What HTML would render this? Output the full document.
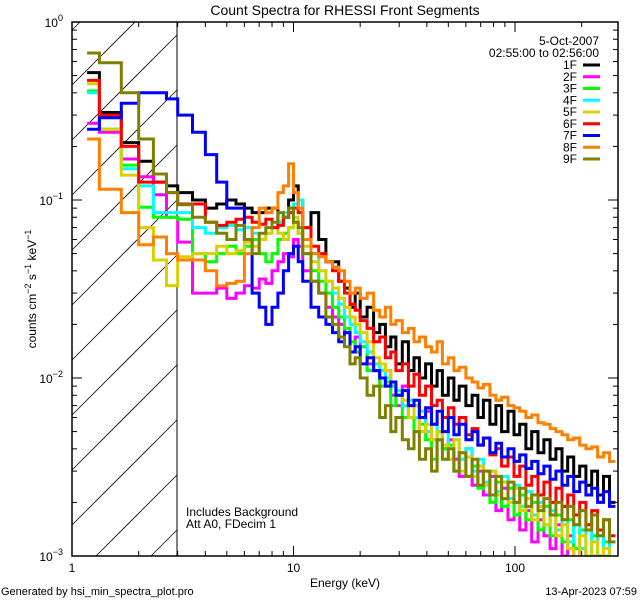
<!DOCTYPE html>
<html><head><meta charset="utf-8"><style>
html,body{margin:0;padding:0;background:#fff;width:640px;height:600px;overflow:hidden;}
svg{display:block;font-family:"Liberation Sans",sans-serif;}
</style></head><body>
<svg id="chart" width="640" height="600" viewBox="0 0 640 600" xmlns="http://www.w3.org/2000/svg">
<rect x="0" y="0" width="640" height="600" fill="#fff"/>
<defs><clipPath id="plotclip"><rect x="72" y="22" width="546" height="534"/></clipPath></defs>
<g id="hatch"></g>
<line x1="177" y1="22" x2="177" y2="556" stroke="#000" stroke-width="1"/>
<g id="series" clip-path="url(#plotclip)"></g>
<rect x="72" y="22" width="546" height="534" fill="none" stroke="#000" stroke-width="1.5"/>
<g id="ticks"></g>
<text x="345" y="15" font-size="14" text-anchor="middle">Count Spectra for RHESSI Front Segments</text>
<text x="345" y="587" font-size="12" text-anchor="middle">Energy (keV)</text>
<text transform="translate(36,289) rotate(-90)" font-size="12" text-anchor="middle">counts cm<tspan dy="-5" font-size="9">−2</tspan><tspan dy="5"> s</tspan><tspan dy="-5" font-size="9">−1</tspan><tspan dy="5"> keV</tspan><tspan dy="-5" font-size="9">−1</tspan></text>
<text x="1" y="595" font-size="11">Generated by hsi_min_spectra_plot.pro</text>
<text x="637" y="595" font-size="11" text-anchor="end">13-Apr-2023 07:59</text>
<text x="186" y="516" font-size="12">Includes Background</text>
<text x="186" y="528" font-size="12">Att A0, FDecim 1</text>
<text x="599" y="45" font-size="12" text-anchor="end">5-Oct-2007</text>
<text x="599" y="57" font-size="12" text-anchor="end">02:55:00 to 02:56:00</text>
<g id="legend"></g>
</svg>
<script>
const edges=[1.17,1.33,1.67,2,2.33,2.67,3,3.5,4,4.5,5,5.5,6,6.5,7,7.5,8,8.5,9,9.5,10,10.5,11,12,13,14,15,16,17,18,19,20,21.5,23,24.5,26,27.5,29,31,33,35,37,39.5,42,44.5,47,50,53,56,60,64,68,72,77,82,87,93,99,105,112,119,127,135,144,153,163,173,184,196,209,222,236,251,267,284];
const names=["1F","2F","3F","4F","5F","6F","7F","8F","9F"];
const colors=["#000000","#ff00ff","#00ff00","#00ffff","#d8d000","#ff0000","#0000ff","#ff8000","#808000"];
const s1F=[0.52,0.31,0.21,0.165,0.126,0.12,0.11,0.10,0.09,0.095,0.10,0.095,0.09,0.085,0.085,0.09,0.09,0.075,0.08,0.10,0.12,0.10,0.07,0.085,0.06,0.045,0.045,0.035,0.032,0.025,0.03,0.022,0.025,0.018,0.02,0.015,0.017,0.012,0.016,0.011,0.013,0.01,0.012,0.009,0.011,0.008,0.01,0.0075,0.009,0.007,0.008,0.006,0.0075,0.0055,0.007,0.005,0.0065,0.0048,0.0055,0.004,0.005,0.0038,0.0045,0.0035,0.004,0.003,0.0036,0.0028,0.0032,0.0025,0.003,0.0022,0.0028,0.002];
const s2F=[0.27,0.24,0.17,0.135,0.107,0.08,0.058,0.03,0.03,0.032,0.028,0.03,0.033,0.032,0.036,0.034,0.04,0.045,0.05,0.048,0.06,0.055,0.04,0.035,0.03,0.025,0.022,0.02,0.018,0.014,0.017,0.015,0.012,0.011,0.009,0.011,0.008,0.007,0.009,0.006,0.007,0.005,0.0065,0.0045,0.005,0.004,0.0045,0.0035,0.0028,0.004,0.0025,0.003,0.0022,0.0028,0.0018,0.0024,0.0016,0.002,0.0014,0.0018,0.0012,0.0016,0.0013,0.0011,0.0015,0.001,0.0013,0.0009,0.0011,0.0008,0.001,0.0008,0.0009,0.0007];
const s3F=[0.41,0.25,0.157,0.091,0.08,0.08,0.078,0.05,0.045,0.05,0.055,0.05,0.055,0.06,0.05,0.045,0.05,0.06,0.065,0.07,0.075,0.065,0.05,0.04,0.035,0.03,0.025,0.022,0.019,0.016,0.014,0.015,0.011,0.012,0.009,0.0095,0.007,0.008,0.006,0.007,0.005,0.0055,0.0045,0.0035,0.005,0.004,0.0042,0.003,0.0038,0.0028,0.0032,0.0024,0.003,0.002,0.0026,0.0019,0.0024,0.0017,0.0022,0.0016,0.002,0.0014,0.0019,0.0013,0.0017,0.0012,0.0016,0.0011,0.0014,0.001,0.0013,0.001,0.0012,0.0009];
const s4F=[0.40,0.25,0.15,0.12,0.085,0.085,0.085,0.07,0.065,0.07,0.072,0.068,0.07,0.065,0.06,0.065,0.07,0.075,0.085,0.09,0.095,0.10,0.07,0.05,0.04,0.035,0.03,0.026,0.022,0.02,0.018,0.016,0.014,0.012,0.011,0.01,0.009,0.0085,0.007,0.0075,0.006,0.0065,0.005,0.0055,0.0045,0.005,0.004,0.0045,0.0035,0.004,0.003,0.0035,0.0026,0.003,0.0023,0.0028,0.0021,0.0025,0.0019,0.0023,0.0017,0.002,0.0015,0.0018,0.0014,0.0016,0.0012,0.0015,0.0011,0.0014,0.001,0.0013,0.001,0.0012];
const s5F=[0.45,0.25,0.138,0.07,0.046,0.033,0.048,0.05,0.05,0.055,0.05,0.052,0.058,0.055,0.06,0.065,0.07,0.065,0.06,0.07,0.08,0.065,0.055,0.045,0.04,0.035,0.032,0.028,0.025,0.022,0.02,0.018,0.016,0.013,0.012,0.011,0.0095,0.008,0.0075,0.006,0.007,0.005,0.0055,0.0045,0.005,0.0042,0.0035,0.0045,0.003,0.0036,0.0028,0.0032,0.0025,0.003,0.0022,0.0026,0.002,0.0024,0.0018,0.0021,0.0016,0.0019,0.0015,0.0017,0.0013,0.0015,0.0011,0.0009,0.0013,0.001,0.0012,0.0009,0.0011,0.0009];
const s6F=[0.47,0.30,0.20,0.126,0.126,0.11,0.095,0.095,0.075,0.072,0.075,0.078,0.08,0.075,0.073,0.078,0.07,0.072,0.08,0.085,0.09,0.085,0.07,0.055,0.05,0.045,0.04,0.035,0.03,0.026,0.024,0.021,0.019,0.016,0.017,0.013,0.014,0.011,0.012,0.009,0.0105,0.008,0.009,0.007,0.0075,0.006,0.0068,0.0055,0.006,0.0048,0.0052,0.0042,0.0046,0.0037,0.004,0.0032,0.0036,0.0028,0.0032,0.0025,0.0028,0.0022,0.0026,0.002,0.0024,0.0019,0.0022,0.0017,0.002,0.0015,0.0018,0.0014,0.0016,0.0013];
const s7F=[0.25,0.29,0.35,0.40,0.40,0.37,0.30,0.24,0.18,0.126,0.09,0.09,0.06,0.03,0.025,0.02,0.025,0.03,0.04,0.05,0.055,0.045,0.035,0.025,0.022,0.02,0.018,0.016,0.018,0.014,0.015,0.012,0.013,0.011,0.01,0.009,0.0095,0.008,0.0085,0.007,0.0075,0.006,0.0068,0.0055,0.0065,0.005,0.006,0.0048,0.0055,0.0045,0.005,0.0042,0.0046,0.0038,0.0043,0.0036,0.004,0.0034,0.0037,0.0031,0.0034,0.0029,0.0032,0.0027,0.003,0.0025,0.0028,0.0023,0.0026,0.0022,0.0024,0.002,0.0023,0.0019];
const s8F=[0.22,0.115,0.085,0.056,0.062,0.05,0.046,0.046,0.04,0.033,0.034,0.035,0.05,0.07,0.09,0.085,0.09,0.11,0.12,0.16,0.11,0.09,0.06,0.05,0.048,0.045,0.042,0.04,0.035,0.03,0.032,0.028,0.03,0.024,0.022,0.025,0.02,0.021,0.018,0.019,0.016,0.017,0.015,0.014,0.016,0.012,0.013,0.011,0.0115,0.01,0.0095,0.0088,0.0092,0.008,0.0075,0.0078,0.007,0.0068,0.0065,0.006,0.0062,0.0056,0.0055,0.0052,0.005,0.0048,0.0045,0.0046,0.0042,0.004,0.0041,0.0036,0.0038,0.0034];
const s9F=[0.67,0.59,0.40,0.22,0.14,0.11,0.094,0.08,0.075,0.065,0.06,0.072,0.06,0.05,0.065,0.07,0.075,0.085,0.08,0.09,0.075,0.07,0.05,0.035,0.03,0.022,0.02,0.017,0.015,0.012,0.013,0.01,0.008,0.009,0.006,0.007,0.005,0.006,0.0045,0.004,0.005,0.0035,0.004,0.003,0.0045,0.0035,0.004,0.003,0.0038,0.0028,0.0035,0.0025,0.003,0.0022,0.0028,0.0021,0.0026,0.002,0.0024,0.0019,0.0022,0.0018,0.0021,0.0017,0.002,0.0016,0.0019,0.0015,0.0018,0.0014,0.0017,0.0013,0.0016,0.0012];
const seriesVals=[s1F,s2F,s3F,s4F,s5F,s6F,s7F,s8F,s9F];
const xTicksMajor=[1,10,100];
const yTicksMajor=[1,0.1,0.01,0.001];
const yTickLabels=["0","−1","−2","−3"];

const X0=72,X1=618,Y0=22,Y1=556,DX=221.5,DY=178,XH=177;
function xs(e){return X0+Math.log10(e)*DX;}
function ys(v){return Y0-Math.log10(v)*DY;}
const NS="http://www.w3.org/2000/svg";
function mk(tag,attrs,parent){const el=document.createElementNS(NS,tag);for(const k in attrs)el.setAttribute(k,attrs[k]);parent.appendChild(el);return el;}

// hatch lines: y = b - (x - X0), clipped to hatch box
const hg=document.getElementById('hatch');
for(let b=30;b<=Y1+(XH-X0);b+=55){
  const xa=Math.max(X0, X0+b-Y1);
  const xb=Math.min(XH, X0+b-Y0);
  if(xb<=xa) continue;
  const l=mk('line',{x1:xa,y1:b-(xa-X0),x2:xb,y2:b-(xb-X0),stroke:'#000','stroke-width':0.8},hg);
  
  
}

const sg=document.getElementById('series');
seriesVals.forEach((vals,i)=>{
  const n=Math.min(vals.length,edges.length-1);
  let d='';
  for(let k=0;k<n;k++){
    const y=Math.min(Y1+2,ys(Math.max(vals[k],1e-5)));
    d+=(k===0?'M':'L')+xs(edges[k]).toFixed(1)+','+y.toFixed(1)+'L'+Math.min(X1,xs(edges[k+1])).toFixed(1)+','+y.toFixed(1);
  }
  const p=mk('path',{d:d,fill:'none',stroke:colors[i],'stroke-width':3,'stroke-linejoin':'miter'},sg);
  
  
});

const tg=document.getElementById('ticks');
for(let dec=0;dec<3;dec++){
  for(let m=1;m<10;m++){
    const e=Math.pow(10,dec)*m; const x=xs(e); if(x>X1)continue;
    const len=m===1?10:5;
    const t1=mk('line',{x1:x,y1:Y1,x2:x,y2:Y1-len,stroke:'#000','stroke-width':1},tg);
    
    
    const t2=mk('line',{x1:x,y1:Y0,x2:x,y2:Y0+len,stroke:'#000','stroke-width':1},tg);
    
    
  }
}
xTicksMajor.forEach(e=>{
  const t=mk('text',{x:xs(e),y:572,'font-size':12,'text-anchor':'middle'},tg);
  t.textContent=String(e);
  
  
});
for(let dec=-3;dec<0;dec++){
  for(let m=1;m<10;m++){
    const v=Math.pow(10,dec)*m; const y=ys(v);
    const len=m===1?10:5;
    const a=mk('line',{x1:X0,y1:y,x2:X0+len,y2:y,stroke:'#000','stroke-width':1},tg);
    
    
    const b=mk('line',{x1:X1,y1:y,x2:X1-len,y2:y,stroke:'#000','stroke-width':1},tg);
    
    
  }
}
yTicksMajor.forEach((v,i)=>{
  const t=mk('text',{x:63,y:ys(v)+5,'font-size':12,'text-anchor':'end'},tg);
  
  
  t.textContent='10';
  const s=mk('tspan',{dy:-6,'font-size':9},t);
  s.textContent=yTickLabels[i];
});

const lg=document.getElementById('legend');
names.forEach((nm,i)=>{
  const y=65+i*11.75;
  const t=mk('text',{x:577,y:y+4,'font-size':12,'text-anchor':'end'},lg);
  t.textContent=nm;
  
  
  const l=mk('line',{x1:583,y1:y,x2:600,y2:y,stroke:colors[i],'stroke-width':3},lg);
  
  
});
</script>
</body></html>
